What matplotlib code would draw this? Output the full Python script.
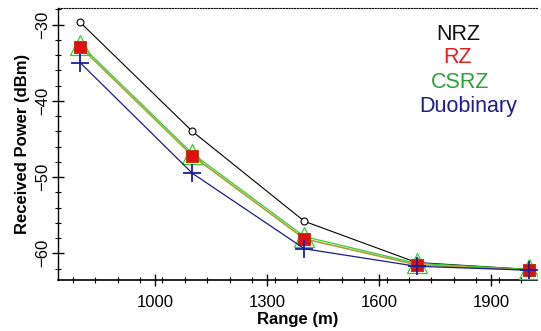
import matplotlib
matplotlib.use("Agg")
import matplotlib.pyplot as plt
from matplotlib.ticker import MultipleLocator

plt.rcParams['font.family'] = ['Liberation Sans', 'DejaVu Sans']

# range in metres
rng = [800, 1100, 1400, 1700, 2000]

# received power (dBm) per modulation format
nrz = [-29.7, -44.0, -55.8, -61.2, -62.1]
rz = [-32.9, -47.2, -58.1, -61.5, -62.2]
csrz = [-32.6, -46.9, -57.8, -61.3, -62.1]
duob = [-35.0, -49.5, -59.4, -61.7, -62.2]

names = ["NRZ", "RZ", "CSRZ", "Duobinary"]
name_cols = ["#111111", "#e02020", "#2e9e3a", "#1c1c8a"]

fig = plt.figure(figsize=(5.41, 3.31), dpi=100)
ax = fig.add_axes([0.107, 0.154, 0.886, 0.822])

ax.plot(rng, nrz, color="black", lw=0.8, marker="o", ms=5,
        mfc="white", mec="black", mew=0.8, zorder=3)
ax.plot(rng, csrz, color="#33cc33", lw=0.9, marker="^", ms=14,
        mfc="none", mec="#33cc33", mew=0.9, zorder=4)
ax.plot(rng, rz, color="#a8a030", lw=1.2, marker="s", ms=9,
        mfc="#e01010", mec="#b04010", mew=0.8, zorder=5)
ax.plot(rng, duob, color="#1c1c8a", lw=0.9, marker="+", ms=13,
        mew=1.3, mec="#1c1ca0", zorder=6)

ax.set_xlim(740, 2023)
ax.set_ylim(-63.5, -27.8)

ax.xaxis.set_major_locator(MultipleLocator(300))
ax.xaxis.set_minor_locator(MultipleLocator(60))
ax.yaxis.set_major_locator(MultipleLocator(10))
ax.yaxis.set_minor_locator(MultipleLocator(2))
ax.set_xticks([1000, 1300, 1600, 1900])

ax.tick_params(which="major", direction="inout", length=9, width=1.0,
               labelsize=12)
ax.tick_params(which="minor", direction="inout", length=5, width=0.8)
ax.tick_params(axis="y", labelrotation=90, pad=1)
ax.tick_params(axis="x", pad=6)
for lbl in ax.get_yticklabels():
    lbl.set_va("center")

ax.spines["right"].set_visible(False)
ax.spines["top"].set_linestyle((0, (1, 1.5)))
ax.spines["top"].set_linewidth(0.8)
ax.spines["left"].set_linewidth(1.0)
ax.spines["bottom"].set_linewidth(1.2)

ax.set_xlabel("Range (m)", fontsize=12, fontweight="bold", labelpad=2)
ax.set_ylabel("Received Power (dBm)", fontsize=12, fontweight="bold",
              labelpad=4)

# legend drawn as coloured text entries
name_x = [458, 458, 460, 468]
name_y = [40, 63, 88, 112]
for n, c, px, py in zip(names, name_cols, name_x, name_y):
    fig.text(px / 541, 1 - py / 331, n, color=c, fontsize=15.5,
             ha="center", va="baseline")

fig.savefig("out.png", dpi=100)
